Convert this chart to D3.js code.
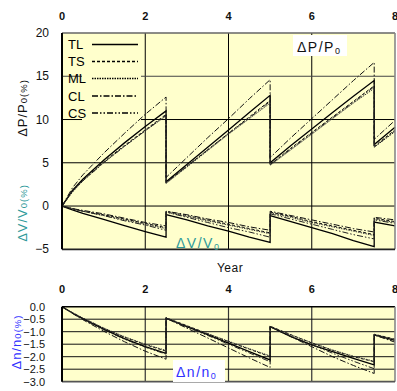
<!DOCTYPE html>
<html>
<head>
<meta charset="utf-8">
<script src="https://cdn.jsdelivr.net/npm/d3@7"></script>
<style>
body { margin:0; background:#ffffff; }
svg { display:block; font-family:"Liberation Sans", Arial, sans-serif; }
</style>
</head>
<body>
<div id="chart"></div>
<script>
// time axis (years), reset points are repeated so the line jumps vertically
var years = [0,0.25,0.5,1,1.5,2,2.5, 2.5,3,3.5,4,4.5,5, 5,5.5,6,6.5,7,7.5, 7.5,8];

var seriesNames = ["TL","TS","ML","CL","CS"];
var xTicks = [0,2,4,6,8];
var pTicks = [20,15,10,5,0,-5];
var nTicks = [0,-0.5,-1,-1.5,-2,-2.5,-3];

// dP/P0 (%)
var pTL = [0,1.8,3.1,5.3,7.3,9.2,11.0, 2.8,4.8,6.8,8.8,10.8,12.8, 5.0,7.0,8.9,10.8,12.7,14.5, 7.1,9.1];
var pTS = [0,1.7,3.0,5.1,7.0,8.8,10.6, 2.7,4.6,6.5,8.4,10.3,12.2, 4.8,6.7,8.5,10.3,12.1,13.9, 6.9,8.8];
var pML = [0,1.6,2.9,5.0,6.9,8.7,10.4, 2.6,4.5,6.4,8.3,10.1,11.9, 4.7,6.5,8.3,10.1,11.9,13.6, 6.8,8.6];
var pCL = [0,2.1,3.6,6.1,8.4,10.6,12.6, 3.3,5.6,7.9,10.1,12.4,14.6, 5.6,7.9,10.1,12.3,14.5,16.6, 7.7,9.9];
var pCS = [0,1.7,2.9,5.0,6.9,8.7,10.5, 2.7,4.6,6.5,8.4,10.2,12.1, 4.8,6.6,8.4,10.2,12.0,13.8, 6.8,8.7];

// dV/V0 (%)
var vTL = [0,-0.45,-0.85,-1.55,-2.25,-2.95,-3.6, -1.0,-1.6,-2.3,-2.9,-3.6,-4.2, -1.1,-1.8,-2.5,-3.2,-4.0,-4.7, -1.85,-2.3];
var vTS = [0,-0.3,-0.6,-1.0,-1.5,-2.0,-2.5, -0.6,-1.1,-1.6,-2.1,-2.6,-3.1, -0.7,-1.2,-1.8,-2.3,-2.8,-3.3, -1.4,-1.8];
var vML = [0,-0.3,-0.6,-1.1,-1.6,-2.1,-2.6, -0.7,-1.2,-1.7,-2.2,-2.7,-3.2, -0.8,-1.3,-1.9,-2.4,-2.9,-3.4, -1.5,-1.9];
var vCL = [0,-0.3,-0.5,-0.9,-1.4,-1.9,-2.3, -0.6,-1.0,-1.5,-1.9,-2.4,-2.8, -0.6,-1.1,-1.6,-2.1,-2.6,-3.0, -1.3,-1.6];
var vCS = [0,-0.3,-0.6,-1.1,-1.7,-2.2,-2.8, -0.7,-1.3,-1.9,-2.5,-3.0,-3.6, -0.9,-1.5,-2.1,-2.7,-3.3,-3.8, -1.6,-2.0];

// dn/n0 (%)
var nTL = [0,-0.25,-0.48,-0.9,-1.28,-1.6,-1.87, -0.46,-0.8,-1.12,-1.46,-1.8,-2.13, -0.8,-1.2,-1.53,-1.8,-2.07,-2.33, -1.13,-1.35];
var nTS = [0,-0.24,-0.46,-0.86,-1.22,-1.52,-1.78, -0.44,-0.76,-1.08,-1.4,-1.7,-2.0, -0.78,-1.12,-1.45,-1.75,-2.0,-2.2, -1.1,-1.3];
var nML = [0,-0.24,-0.45,-0.85,-1.2,-1.5,-1.75, -0.45,-0.77,-1.08,-1.38,-1.68,-1.97, -0.79,-1.13,-1.44,-1.73,-1.98,-2.18, -1.11,-1.31];
var nCL = [0,-0.27,-0.52,-0.98,-1.4,-1.78,-2.1, -0.46,-0.86,-1.25,-1.65,-2.05,-2.43, -0.8,-1.2,-1.6,-2.0,-2.35,-2.67, -1.13,-1.42];
var nCS = [0,-0.26,-0.5,-0.92,-1.3,-1.62,-1.9, -0.46,-0.82,-1.15,-1.5,-1.85,-2.2, -0.8,-1.17,-1.52,-1.86,-2.18,-2.48, -1.13,-1.38];

var width = 397, height = 391;
var bg = "#ffffcc";
var teal = "#2e9a9a", blue = "#3030ff";

var styles = {
	TL: {dash:null, color:"#000", w:1.3},
	TS: {dash:"3,2", color:"#111", w:1},
	ML: {dash:"1.5,1", color:"#333", w:1},
	CL: {dash:"6,2,1.5,2", color:"#111", w:1},
	CS: {dash:"6,2,1.5,2,1.5,2", color:"#222", w:1}
};

var svg = d3.select("#chart").append("svg")
	.attr("width", width)
	.attr("height", height);

var x = d3.scaleLinear().domain([0,8]).range([62,395]);
var yP = d3.scaleLinear().domain([-5,20]).range([249.3,33]);
var yN = d3.scaleLinear().domain([-3,0]).range([381.7,306.7]);

function frame(y0, y1) {
	svg.append("rect")
		.attr("x", x(0)).attr("y", y1)
		.attr("width", x(8)-x(0)).attr("height", y0-y1)
		.attr("fill", bg);
}
frame(yP(-5), yP(20));
frame(yN(-3), yN(0));

// grid lines
[2,4,6].forEach(function(d){
	svg.append("line").attr("x1",x(d)).attr("x2",x(d)).attr("y1",yP(20)).attr("y2",yP(-5))
		.attr("stroke","#000").attr("stroke-width",1);
	svg.append("line").attr("x1",x(d)).attr("x2",x(d)).attr("y1",yN(0)).attr("y2",yN(-3))
		.attr("stroke","#333").attr("stroke-width",1.2);
});
[15,10,5,0].forEach(function(d){
	svg.append("line").attr("x1",x(0)).attr("x2",x(8)).attr("y1",yP(d)).attr("y2",yP(d))
		.attr("stroke", d==15 ? "#444" : "#000").attr("stroke-width",1);
});
nTicks.slice(1,-1).forEach(function(d){
	svg.append("line").attr("x1",x(0)).attr("x2",x(8)).attr("y1",yN(d)).attr("y2",yN(d))
		.attr("stroke","#111").attr("stroke-width",1);
});

// legend background
svg.append("rect").attr("x",82).attr("y",38).attr("width",59).attr("height",84).attr("fill",bg);

function drawSet(yScale, sets) {
	var line = d3.line()
		.x(function(d,i){ return x(years[i]); })
		.y(function(d){ return yScale(d); });
	seriesNames.forEach(function(name, k){
		var st = styles[name];
		svg.append("path")
			.datum(sets[k])
			.attr("d", line)
			.attr("fill","none")
			.attr("stroke", st.color)
			.attr("stroke-width", st.w)
			.attr("stroke-dasharray", st.dash);
	});
}
drawSet(yP, [pTL,pTS,pML,pCL,pCS]);
drawSet(yP, [vTL,vTS,vML,vCL,vCS]);
drawSet(yN, [nTL,nTS,nML,nCL,nCS]);

// plot frames
function border(yTop, yBot, topColor, botColor) {
	svg.append("line").attr("x1",x(0)).attr("x2",x(8)).attr("y1",yTop).attr("y2",yTop)
		.attr("stroke",topColor).attr("stroke-width",1.6);
	svg.append("line").attr("x1",x(8)).attr("x2",x(8)).attr("y1",yTop).attr("y2",yBot)
		.attr("stroke","#888").attr("stroke-width",1.6);
	svg.append("line").attr("x1",x(0)).attr("x2",x(8)).attr("y1",yBot).attr("y2",yBot)
		.attr("stroke",botColor).attr("stroke-width",1.8);
	svg.append("line").attr("x1",x(0)).attr("x2",x(0)).attr("y1",yTop).attr("y2",yBot)
		.attr("stroke","#000").attr("stroke-width",2);
}
border(yP(20), yP(-5), "#666", "#222");
border(yN(0), yN(-3), "#000", "#555");

// tick labels
xTicks.forEach(function(d){
	svg.append("text").text(d).attr("x",x(d)).attr("y",20)
		.attr("text-anchor","middle").attr("font-size",11).attr("font-weight","bold").attr("fill","#111");
	svg.append("text").text(d).attr("x",x(d)).attr("y",293)
		.attr("text-anchor","middle").attr("font-size",11).attr("font-weight","bold").attr("fill","#111");
});
pTicks.forEach(function(d){
	svg.append("text").text(d < 0 ? "\u2212" + Math.abs(d) : d)
		.attr("x",49).attr("y",yP(d)+4)
		.attr("text-anchor","end").attr("font-size",12).attr("fill","#111");
});
nTicks.forEach(function(d){
	svg.append("text").text(d < 0 ? "\u2212" + Math.abs(d).toFixed(1) : d.toFixed(1))
		.attr("x",45).attr("y",yN(d)+4)
		.attr("text-anchor","end").attr("font-size",11).attr("fill","#111");
});

svg.append("text").text("Year").attr("x",230).attr("y",272)
	.attr("text-anchor","middle").attr("font-size",12).attr("letter-spacing","0.5").attr("fill","#111");

// axis titles
function yTitle(cx, cy, main, sub, color) {
	var t = svg.append("text")
		.attr("transform","translate("+cx+","+cy+") rotate(-90)")
		.attr("text-anchor","middle").attr("fill",color).attr("font-size",13)
		.attr("letter-spacing","1");
	t.append("tspan").text(main);
	t.append("tspan").text(sub).attr("font-size",9.5);
}
yTitle(27, 108, "\u0394P/P", "0(%)", "#111");
yTitle(27, 213, "\u0394V/V", "0(%)", teal);
yTitle(21, 342, "\u0394n/n", "0(%)", blue);

// legend
var legendY = [49,66,83,100.5,117.5];
seriesNames.forEach(function(name, i){
	var st = styles[name];
	svg.append("text").text(name).attr("x",68).attr("y",legendY[i])
		.attr("font-size",13).attr("fill","#000");
	svg.append("line").attr("x1",92).attr("x2",138)
		.attr("y1",legendY[i]-4.5).attr("y2",legendY[i]-4.5)
		.attr("stroke","#000").attr("stroke-width",1.3)
		.attr("stroke-dasharray", st.dash);
});

// curve labels
function tag(tx, ty, main, sub, color, box) {
	var g = svg.append("g");
	if (box) g.append("rect").attr("x",box[0]).attr("y",box[1]).attr("width",box[2]).attr("height",box[3]).attr("fill","#fff");
	var t = g.append("text").attr("x",tx).attr("y",ty).attr("fill",color).attr("font-size",14).attr("letter-spacing","1.5");
	t.append("tspan").text(main);
	t.append("tspan").text(sub).attr("font-size",9).attr("dy",2);
}
tag(297, 52, "\u0394P/P", "0", "#111", [293,35,54,21]);
tag(176, 248, "\u0394V/V", "0", teal, null);
tag(176, 377, "\u0394n/n", "0", blue, [173,360,52,22]);
</script>
</body>
</html>
